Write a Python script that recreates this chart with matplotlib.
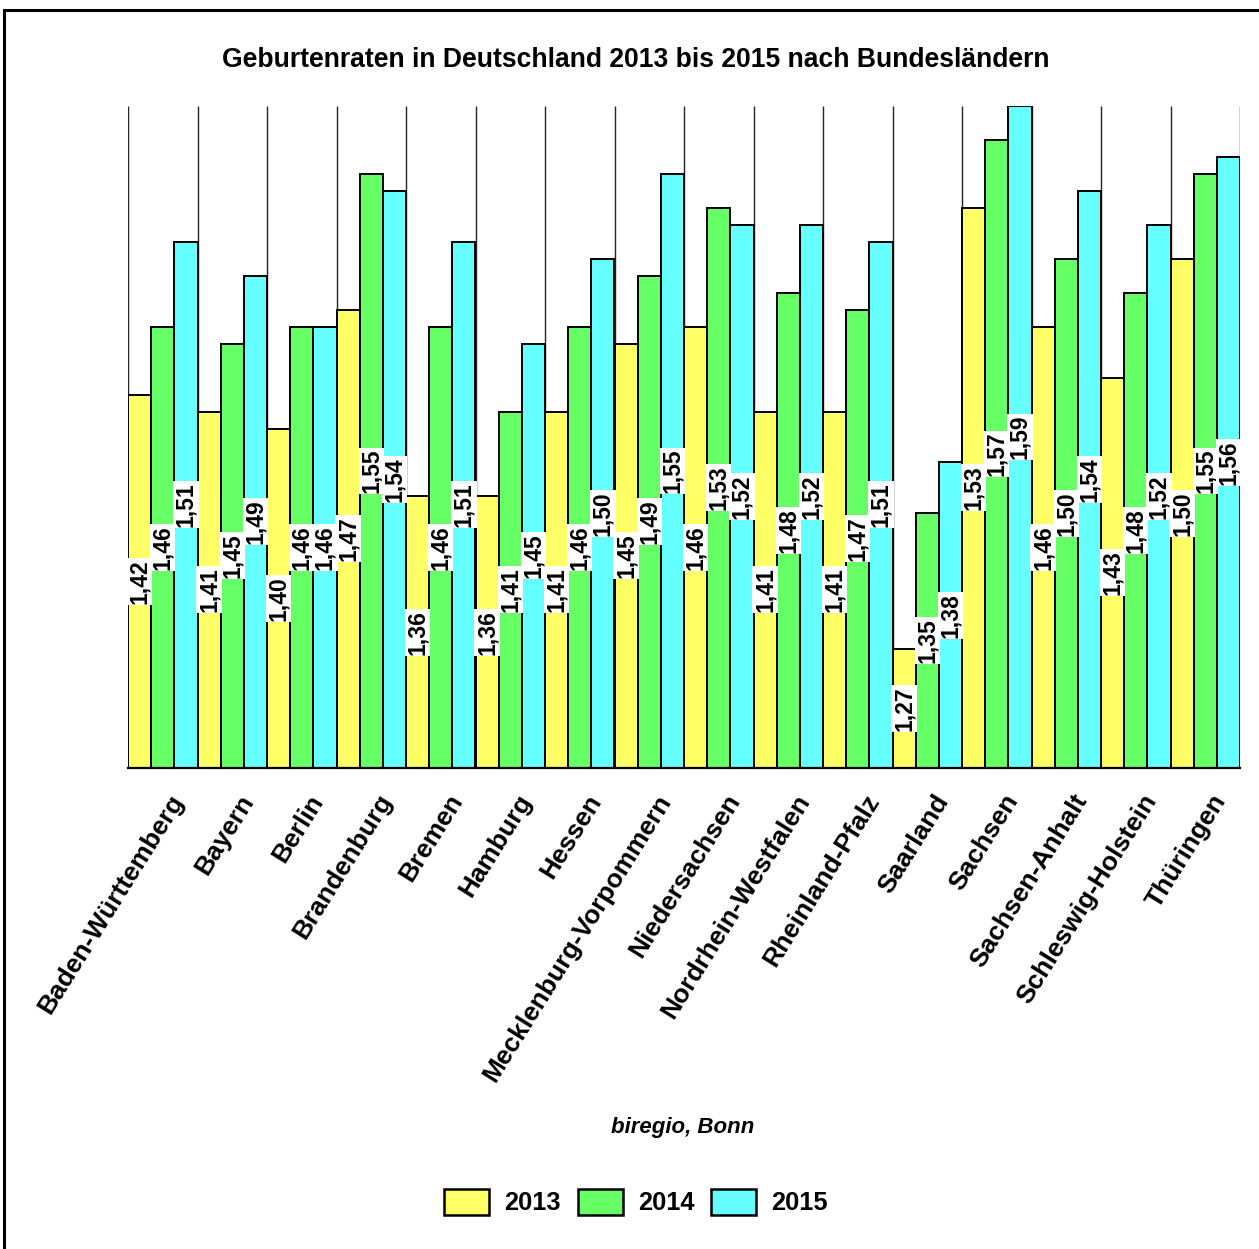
import numpy as np
import matplotlib
matplotlib.use("Agg")
import matplotlib.pyplot as plt
from matplotlib.patches import Patch, Rectangle
from matplotlib.transforms import ScaledTranslation

plt.rcParams["font.family"] = ["Liberation Sans", "DejaVu Sans"]

# --- data ---
laender = [
    "Baden-Württemberg", "Bayern", "Berlin", "Brandenburg", "Bremen", "Hamburg",
    "Hessen", "Mecklenburg-Vorpommern", "Niedersachsen", "Nordrhein-Westfalen",
    "Rheinland-Pfalz", "Saarland", "Sachsen", "Sachsen-Anhalt",
    "Schleswig-Holstein", "Thüringen",
]
rate_2013 = [1.42, 1.41, 1.40, 1.47, 1.36, 1.36, 1.41, 1.45, 1.46, 1.41, 1.41, 1.27, 1.53, 1.46, 1.43, 1.50]
rate_2014 = [1.46, 1.45, 1.46, 1.55, 1.46, 1.41, 1.46, 1.49, 1.53, 1.48, 1.47, 1.35, 1.57, 1.50, 1.48, 1.55]
rate_2015 = [1.51, 1.49, 1.46, 1.54, 1.51, 1.45, 1.50, 1.55, 1.52, 1.52, 1.51, 1.38, 1.59, 1.54, 1.52, 1.56]
years = ["2013", "2014", "2015"]
colors = ["#FFFF66", "#66FF66", "#66FFFF"]

y_min, y_max = 1.20, 1.59
leg_size = 18.3
px = leg_size * 100 / 72  # legend font size in pixels

fig = plt.figure(figsize=(12.59, 12.49), dpi=100)
ax = fig.add_axes([128 / 1259, 1 - 768 / 1249, (1240 - 128) / 1259, (768 - 106) / 1249])

x = np.arange(len(laender))
w = 1 / 3

# group separator lines
ax.vlines(np.arange(len(laender) + 1) - 0.5, y_min, y_max, color="#222222", lw=1.0, zorder=1)

for i, (series, col) in enumerate(zip([rate_2013, rate_2014, rate_2015], colors)):
    xs = x + (i - 1) * w
    vals = np.array(series)
    ax.bar(xs, vals - y_min, bottom=y_min, width=w, color=col,
           edgecolor="black", linewidth=1.4, zorder=2)
    for xi, v in zip(xs, vals):
        ax.text(xi, (v + y_min) / 2, f"{v:.2f}".replace(".", ","), rotation=90,
                ha="center", va="center", fontsize=16.5, fontweight="bold",
                bbox=dict(boxstyle="square,pad=0.05", fc="white", ec="none"), zorder=3)

ax.set_xlim(-0.5, len(laender) - 0.5)
ax.set_ylim(y_min, y_max)
ax.set_yticks([])
for s in ["top", "left", "right"]:
    ax.spines[s].set_visible(False)
ax.spines["bottom"].set_linewidth(1.6)
ax.spines["bottom"].set_zorder(4)

ax.set_xticks(x)
ax.set_xticklabels(laender, rotation=58, ha="right", va="center",
                   rotation_mode="anchor", fontsize=19, fontweight="bold")
ax.tick_params(axis="x", length=0, pad=22)
for lbl in ax.get_xticklabels():
    lbl.set_transform(lbl.get_transform() + ScaledTranslation(0.16, 0.02, fig.dpi_scale_trans))

fig.text(636 / 1259, 1 - 60 / 1249, "Geburtenraten in Deutschland 2013 bis 2015 nach Bundesländern",
         ha="center", va="center", fontsize=19.1, fontweight="bold")
fig.text(683 / 1259, 1 - 1128 / 1249, "biregio, Bonn", ha="center", va="center",
         fontsize=16, fontweight="bold", style="italic")

handles = [Patch(facecolor=c, edgecolor="black", linewidth=1.8) for c in colors]
fig.legend(handles, years, loc="center", bbox_to_anchor=(636 / 1259, 1 - 1202 / 1249),
           ncol=3, frameon=False, prop=dict(size=leg_size, weight="bold"),
           handlelength=45 / px, handleheight=31 / px,
           handletextpad=15 / px, columnspacing=17 / px)

# outer frame (only left and top visible in the image)
fig.patches.append(Rectangle((4 / 1259, -0.1), 2.0, 0.1 + 1 - 10 / 1249, transform=fig.transFigure,
                             fill=False, edgecolor="black", linewidth=2.2))

fig.savefig("out.png", dpi=100)
